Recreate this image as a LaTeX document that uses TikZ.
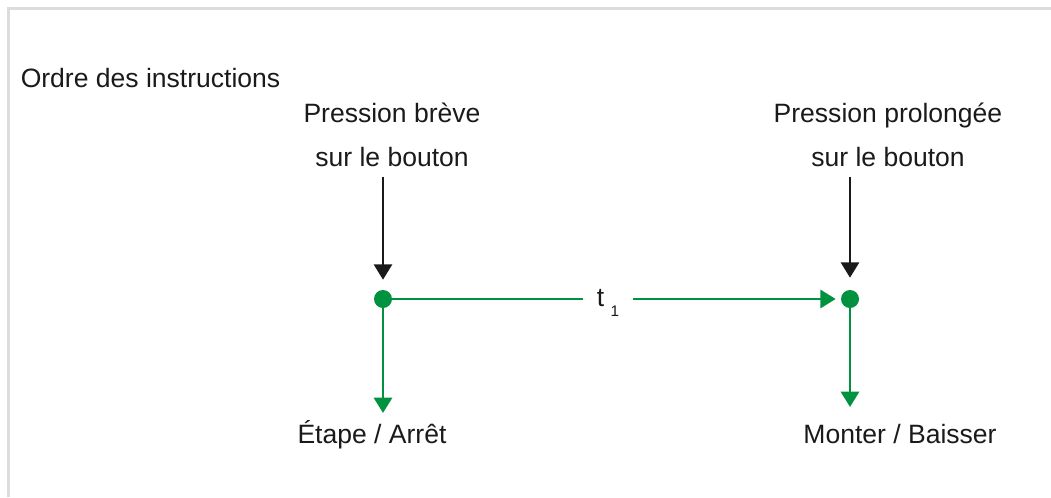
\documentclass[tikz,border=0pt]{standalone}
\usepackage{fontspec}
\setmainfont{Liberation Sans}
\usetikzlibrary{calc,arrows.meta}

\begin{document}
\begin{tikzpicture}[x=0.75pt,y=0.75pt,yscale=-1,xscale=1,
        lbl/.style={font=\fontsize{19.9}{33}\selectfont, color={rgb, 255:red, 26; green, 26; blue, 26 }, inner sep=0, align=center},
        dot/.style={circle, fill={rgb, 255:red, 0; green, 146; blue, 63 }, inner sep=0, minimum size=13.5pt},
        tip/.style={-{Triangle[length=11.5pt,width=13.5pt]}},
        push/.style={draw={rgb, 255:red, 26; green, 26; blue, 26 }, line width=2pt, tip},
        flow/.style={draw={rgb, 255:red, 0; green, 146; blue, 63 }, line width=2.2pt}]
                \useasboundingbox (0,0) rectangle (1051,497);
                %Frame
                \draw [color={rgb, 255:red, 220; green, 220; blue, 220 }, line width=2.25pt] (8.5,497) -- (8.5,8.5) -- (1051,8.5);
                %Text Nodes
                \node [lbl, anchor=base west] (order) at (20.5,87) {Ordre des instructions};
                \node [lbl, anchor=base] (brieftxt) at (392,166) {Pression brève\\sur le bouton};
                \node [lbl, anchor=base] (longtxt) at (888,166) {Pression prolongée\\sur le bouton};
                \node [lbl, anchor=base, inner xsep=10.5pt] (tone) at (608,306) {t\kern4.8pt\raisebox{-7.5pt}{\fontsize{11.5}{13}\selectfont 1}};
                \node [lbl, anchor=base] (stoplbl) at (372,443) {Étape / Arrêt};
                \node [lbl, anchor=base] (movelbl) at (900,443) {Monter / Baisser};
                %Shape: Circle
                \node [dot] (brief) at (383,299) {};
                \node [dot] (long) at (850,299) {};
                \coordinate (stopend) at (383,413);
                \coordinate (moveend) at (850,407);
                %Straight Lines
                \draw [push, shorten <=7.5pt, shorten >=7.5pt] (brieftxt.south -| brief) -- (brief);
                \draw [push, shorten <=7.5pt, shorten >=9pt] (longtxt.south -| long) -- (long);
                \draw [flow] (brief) -- (brief -| tone.west);
                \draw [flow, tip, shorten >=3.75pt] (tone.east |- long) -- (long);
                \draw [flow, tip] (brief) -- (stopend);
                \draw [flow, tip] (long) -- (moveend);
        \end{tikzpicture}
\end{document}
